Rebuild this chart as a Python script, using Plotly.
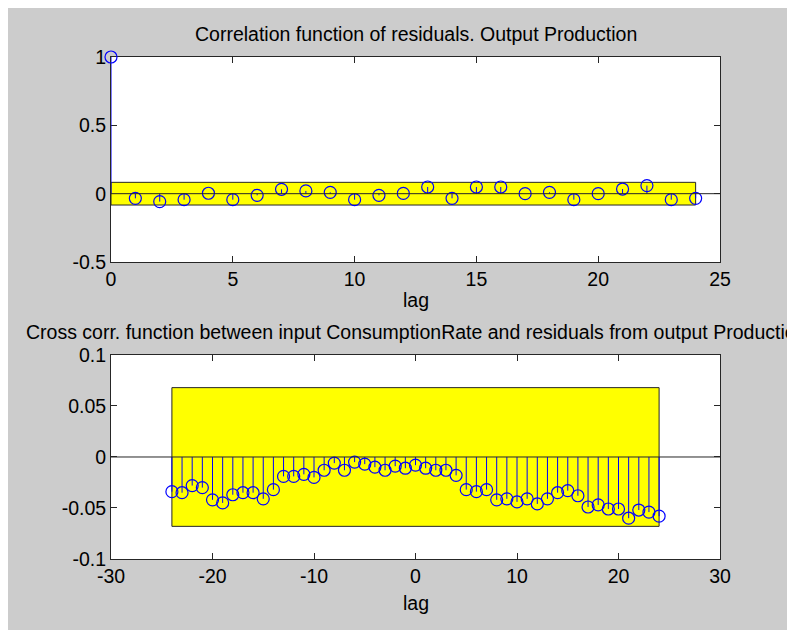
import plotly.graph_objects as go

# residual autocorrelation, output Production
acf_lags = list(range(0, 25))
acf_vals = [1.0, -0.034, -0.058, -0.044, 0.003, -0.044, -0.012, 0.032, 0.02, 0.01,
            -0.044, -0.012, 0.002, 0.049, -0.034, 0.049, 0.049, 0.0, 0.01, -0.044,
            0.0, 0.034, 0.059, -0.044, -0.034]
acf_conf = 0.083

# cross correlation ConsumptionRate -> residuals of Production
ccf_lags = list(range(-24, 25))
ccf_vals = [-0.034, -0.035, -0.028, -0.030, -0.042, -0.045, -0.037, -0.035, -0.035, -0.041,
            -0.032, -0.019, -0.019, -0.017, -0.020, -0.013, -0.006, -0.013, -0.005, -0.007,
            -0.010, -0.013, -0.009, -0.011, -0.008, -0.011, -0.013, -0.013, -0.018, -0.032,
            -0.034, -0.032, -0.042, -0.041, -0.044, -0.041, -0.046, -0.041, -0.035, -0.033,
            -0.038, -0.049, -0.047, -0.051, -0.051, -0.060, -0.052, -0.054, -0.058]
ccf_conf = 0.068

acf_xticks = [0, 5, 10, 15, 20, 25]
acf_yticks = [-0.5, 0, 0.5, 1]
ccf_xticks = [-30, -20, -10, 0, 10, 20, 30]
ccf_yticks = [-0.1, -0.05, 0, 0.05, 0.1]

top_title = "Correlation function of residuals. Output Production"
bottom_title = "Cross corr. function between input ConsumptionRate and residuals from output Production"

FONT = "Liberation Sans, Arial, sans-serif"
FS = 19.5
BLUE = "#0000ff"
EDGE = "#262626"


def stems(lags, vals):
    xs, ys = [], []
    for lag, v in zip(lags, vals):
        xs += [lag, lag, None]
        ys += [0, v, None]
    return xs, ys


def band(lags, conf):
    lo, hi = min(lags), max(lags)
    return [lo, hi, hi, lo, lo], [-conf, -conf, conf, conf, -conf]


def labels(vals):
    # plain hyphen minus like the original, not the unicode minus
    return [("%g" % v) for v in vals]


fig = go.Figure()

for lags, vals, conf, xa, ya in [(acf_lags, acf_vals, acf_conf, "x", "y"),
                                 (ccf_lags, ccf_vals, ccf_conf, "x2", "y2")]:
    bx, by = band(lags, conf)
    fig.add_trace(go.Scatter(x=bx, y=by, mode="lines", fill="toself",
                             fillcolor="#ffff00", line=dict(color=EDGE, width=1),
                             xaxis=xa, yaxis=ya, hoverinfo="skip"))
    sx, sy = stems(lags, vals)
    fig.add_trace(go.Scatter(x=sx, y=sy, mode="lines", cliponaxis=False,
                             line=dict(color=BLUE, width=1),
                             xaxis=xa, yaxis=ya, hoverinfo="skip"))
    fig.add_trace(go.Scatter(x=lags, y=vals, mode="markers", cliponaxis=False,
                             marker=dict(symbol="circle-open", size=12,
                                         color=BLUE, line=dict(width=1.2)),
                             xaxis=xa, yaxis=ya))

axis_style = dict(showgrid=False, zeroline=False, showline=True, linecolor=EDGE,
                  linewidth=1, mirror="allticks", ticks="inside", ticklen=6,
                  tickcolor=EDGE, layer="below traces",
                  tickfont=dict(family=FONT, size=FS, color="#000000"))

fig.update_layout(
    width=787, height=622,
    margin=dict(l=103, r=75, t=49, b=71),
    paper_bgcolor="#cccccc",
    plot_bgcolor="#ffffff",
    showlegend=False,
    font=dict(family=FONT, size=FS, color="#000000"),
    xaxis=dict(domain=[0, 1], anchor="y", range=[0, 25], tickvals=acf_xticks,
               ticktext=labels(acf_xticks), **axis_style),
    yaxis=dict(domain=[0.5916, 1], anchor="x", range=[-0.5, 1], tickvals=acf_yticks,
               ticktext=labels(acf_yticks), **axis_style),
    xaxis2=dict(domain=[0, 1], anchor="y2", range=[-30, 30], tickvals=ccf_xticks,
                ticktext=labels(ccf_xticks), **axis_style),
    yaxis2=dict(domain=[0, 0.4064], anchor="x2", range=[-0.1, 0.1], tickvals=ccf_yticks,
                ticktext=labels(ccf_yticks), **axis_style),
)

# zero lines on top of the confidence bands
for xr, yr in [("x domain", "y"), ("x2 domain", "y2")]:
    fig.add_shape(type="line", xref=xr, yref=yr, x0=0, x1=1, y0=0, y1=0,
                  line=dict(color=EDGE, width=1), layer="above")

for text, y in [(top_title, 1.0458), (bottom_title, 0.4522), ("lag", 0.516), ("lag", -0.0876)]:
    fig.add_annotation(text=text, xref="paper", yref="paper", x=0.5, y=y,
                       xanchor="center", yanchor="middle", showarrow=False,
                       font=dict(family=FONT, size=FS, color="#000000"))

fig.write_html("out.html")
